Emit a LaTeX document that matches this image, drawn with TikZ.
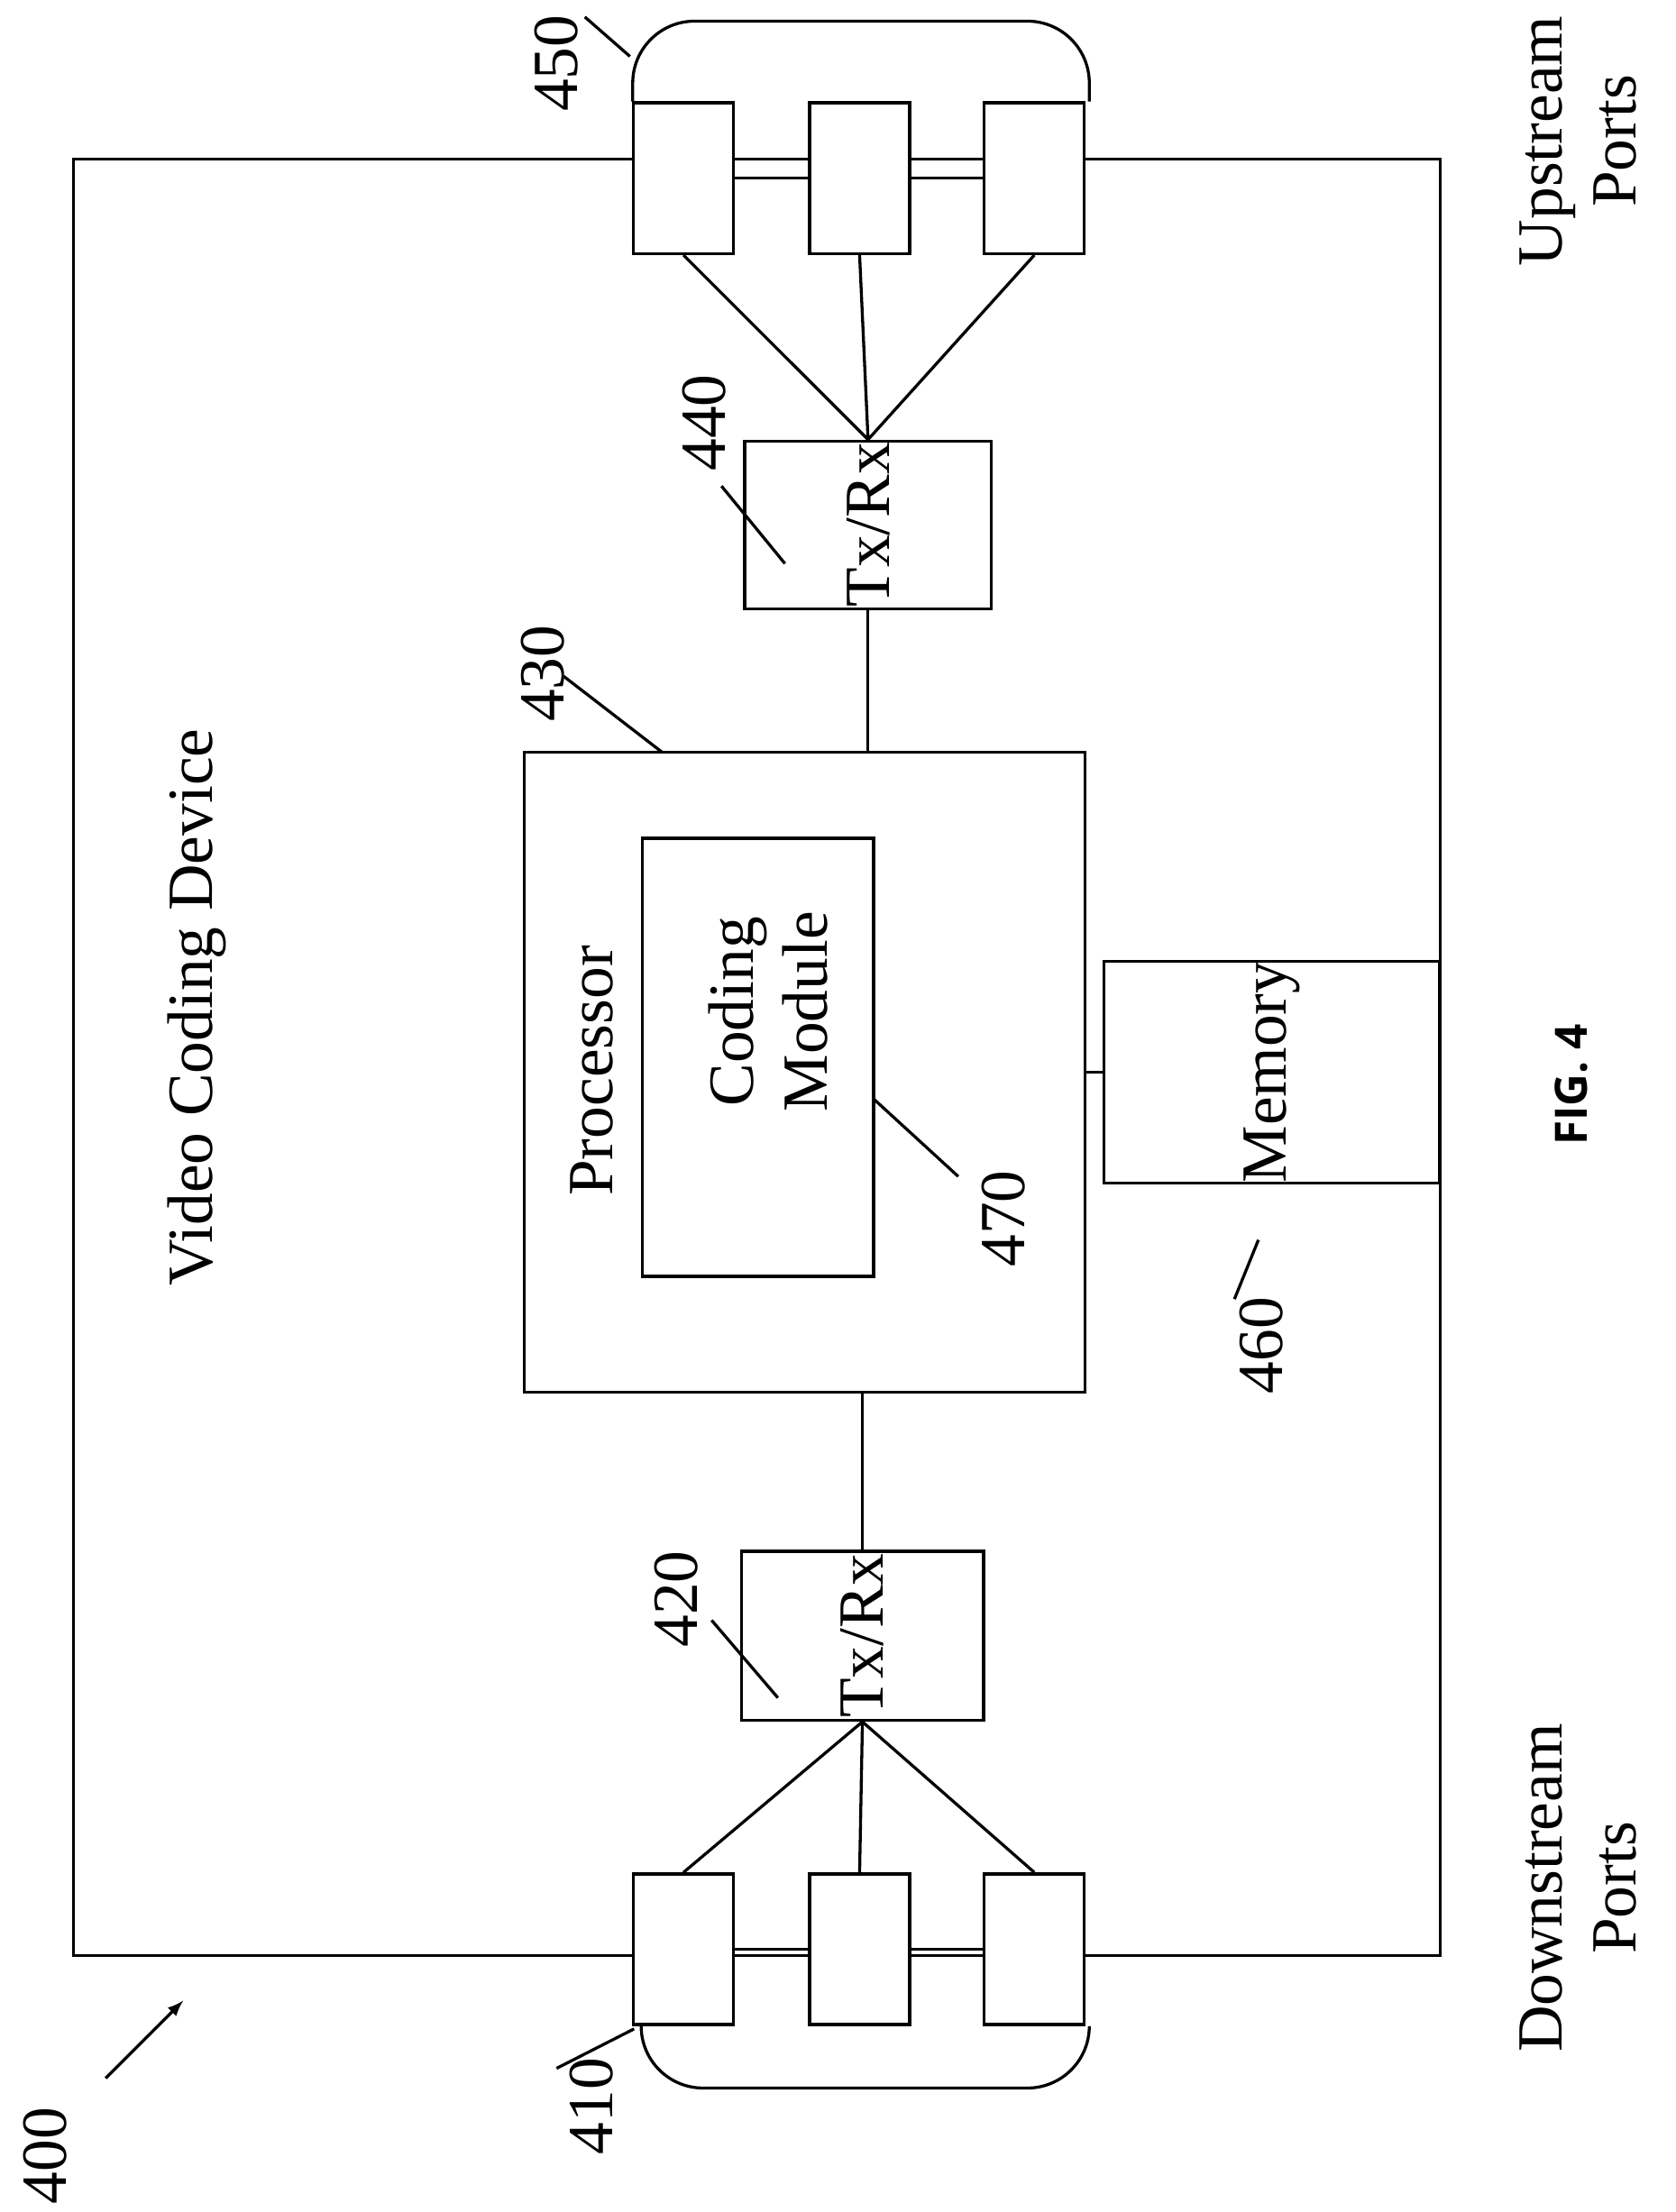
\documentclass[tikz,border=0pt]{standalone}
\usepackage{fontspec}
\setmainfont{Liberation Serif}
\newfontfamily\figfont{Open Sans}
\usetikzlibrary{positioning}
\tikzset{
  blk/.style={rectangle, draw, line width=1.2pt, inner sep=0pt},
  lbl/.style={rotate=90, font=\fontsize{26}{30}\selectfont},
  lead/.style={line width=1.2pt},
}
\begin{document}
\begin{tikzpicture}[x=0.02cm, y=-0.02cm]
	\useasboundingbox (0,0) rectangle (1189,1570);
	% outer device
	\node [blk, minimum width=19.4cm, minimum height=25.5cm] (dev) at (537,750.5) {};
	\node [lbl] (devt) at (140,715) {Video Coding Device};
	% upstream ports
	\node [blk, fill=white, minimum width=1.42cm, minimum height=2.14cm] (u1) at (485,126.5) {};
	\node [blk, fill=white, minimum width=1.42cm, minimum height=2.14cm] (u2) at (610,126.5) {};
	\node [blk, fill=white, minimum width=1.42cm, minimum height=2.14cm] (u3) at (734,126.5) {};
	\draw [lead] (u1.east) -- (u2.west) (u2.east) -- (u3.west);
	\draw [lead, rounded corners=25pt] (449,72) -- (449,15) -- (773,15) -- (773,72);
	\node [lbl] (n450) at (395,45) {450};
	\draw [lead] (415,12) -- (447,40);
	\node [lbl, align=center] (up) at (1120,100) {Upstream\\Ports};
	% upper tx/rx
	\node [blk, minimum width=2.38cm, minimum height=3.5cm] (tx2) at (616,372.5) [lbl] {Tx/Rx};
	\draw [lead] (u1.south) -- (tx2.east) (u2.south) -- (tx2.east) (u3.south) -- (tx2.east);
	\node [lbl] (n440) at (500,300) {440};
	\draw [lead] (512,345) -- (557,400);
	% processor
	\node [blk, minimum width=7.96cm, minimum height=9.08cm] (proc) at (571,761) {};
	\node [lbl] (proct) at (420,760) {Processor};
	\node [blk, minimum width=3.28cm, minimum height=6.22cm] (cm) at (538,750.5) {};
	\node [lbl, align=center] (cmt) at (545,718) {Coding\\Module};
	\node [lbl] (n470) at (712,865) {470};
	\draw [lead] (620,780) -- (680,835);
	\node [lbl] (n430) at (385,478) {430};
	\draw [lead] (400,480) -- (470,534);
	\draw [lead] (tx2.west) -- (proc.north -| tx2.west);
	% memory
	\node [blk, minimum width=2.5cm, minimum height=4.76cm] (mem) at (902.5,761) [lbl] {Memory};
	\draw [lead] (proc.east |- mem.north) -- (mem.north);
	\node [lbl] (n460) at (895,955) {460};
	\draw [lead] (876,922) -- (893,880);
	% lower tx/rx
	\node [blk, minimum width=2.4cm, minimum height=3.44cm] (tx1) at (612,1161) [lbl] {Tx/Rx};
	\draw [lead] (tx1.east) -- (proc.south -| tx1.east);
	\node [lbl] (n420) at (480,1135) {420};
	\draw [lead] (505,1150) -- (552,1205);
	% downstream ports
	\node [blk, fill=white, minimum width=1.42cm, minimum height=2.14cm] (d1) at (485,1383.5) {};
	\node [blk, fill=white, minimum width=1.42cm, minimum height=2.14cm] (d2) at (610,1383.5) {};
	\node [blk, fill=white, minimum width=1.42cm, minimum height=2.14cm] (d3) at (734,1383.5) {};
	\draw [lead] (d1.east) -- (d2.west) (d2.east) -- (d3.west);
	\draw [lead] (d1.north) -- (tx1.west) (d2.north) -- (tx1.west) (d3.north) -- (tx1.west);
	\draw [lead, rounded corners=25pt] (455,1440) -- (455,1482) -- (773,1482) -- (773,1440);
	\node [lbl] (n410) at (420,1495) {410};
	\draw [lead] (395,1468) -- (450,1440);
	\node [lbl, align=center] (down) at (1120,1340) {Downstream\\Ports};
	% device label
	\node [lbl] (n400) at (32,1530) {400};
	\coordinate (a400) at (130,1420);
	\draw [lead, -latex] (75,1475) -- (a400);
	\node [rotate=90, font=\figfont\bfseries\fontsize{18}{20}\selectfont] (fig) at (1115,770) {FIG. 4};
\end{tikzpicture}
\end{document}
